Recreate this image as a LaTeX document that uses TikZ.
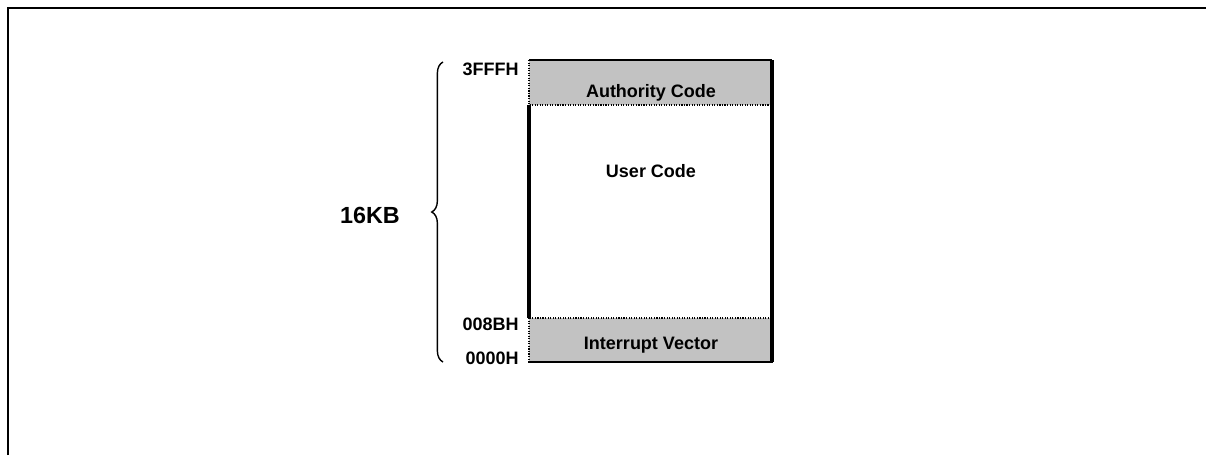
\documentclass[tikz,border=0pt]{standalone}
\usepackage{fontspec}
\setmainfont{Liberation Sans}
\usepackage{tikz}
\usetikzlibrary{decorations.pathreplacing}

\begin{document}
\begin{tikzpicture}[x=0.025cm,y=-0.025cm]
      \tikzset{
        band/.style={fill=black!24, draw=black, densely dotted, line width=0.8pt},
        lbl/.style={font=\fontsize{12.8}{14}\selectfont\bfseries, inner sep=0pt},
        addr/.style={font=\fontsize{12.8}{14}\selectfont\bfseries, inner sep=0pt, anchor=east},
        side/.style={line width=2.6pt},
      }
      \useasboundingbox (0,0) rectangle (1206,455);
      % frame
      \draw [line width=1.8pt] (8,455) -- (8,8) -- (1206,8);

      % memory map
      \coordinate (tl) at (529,60);
      \coordinate (br) at (772,362);
      \path [band] (529,60) rectangle (772,105);
      \path [band] (529,318) rectangle (772,362);
      \draw [line width=1pt] (tl) -- (tl -| br);
      \draw [line width=1.4pt] (tl |- br) -- (br);
      \draw [side] (529,105) -- (529,318);
      \draw [side] (tl -| br) -- (br);

      \node [lbl] (auth) at (651,93) {Authority Code};
      \node [lbl] (user) at (651,171) {User Code};
      \node [lbl] (intr) at (651,345) {Interrupt Vector};

      \node [addr] (top) at (519,69) {3FFFH};
      \node [addr] (mid) at (519,324) {008BH};
      \node [addr] (bot) at (519,358) {0000H};

      %brace
      \draw [line width=1pt, decorate, decoration={brace, amplitude=8pt}] (443,362) -- (443,62);
      \node [font=\fontsize{16.6}{18}\selectfont\bfseries, inner sep=0pt] (size) at (370,215) {16KB};
\end{tikzpicture}
\end{document}
